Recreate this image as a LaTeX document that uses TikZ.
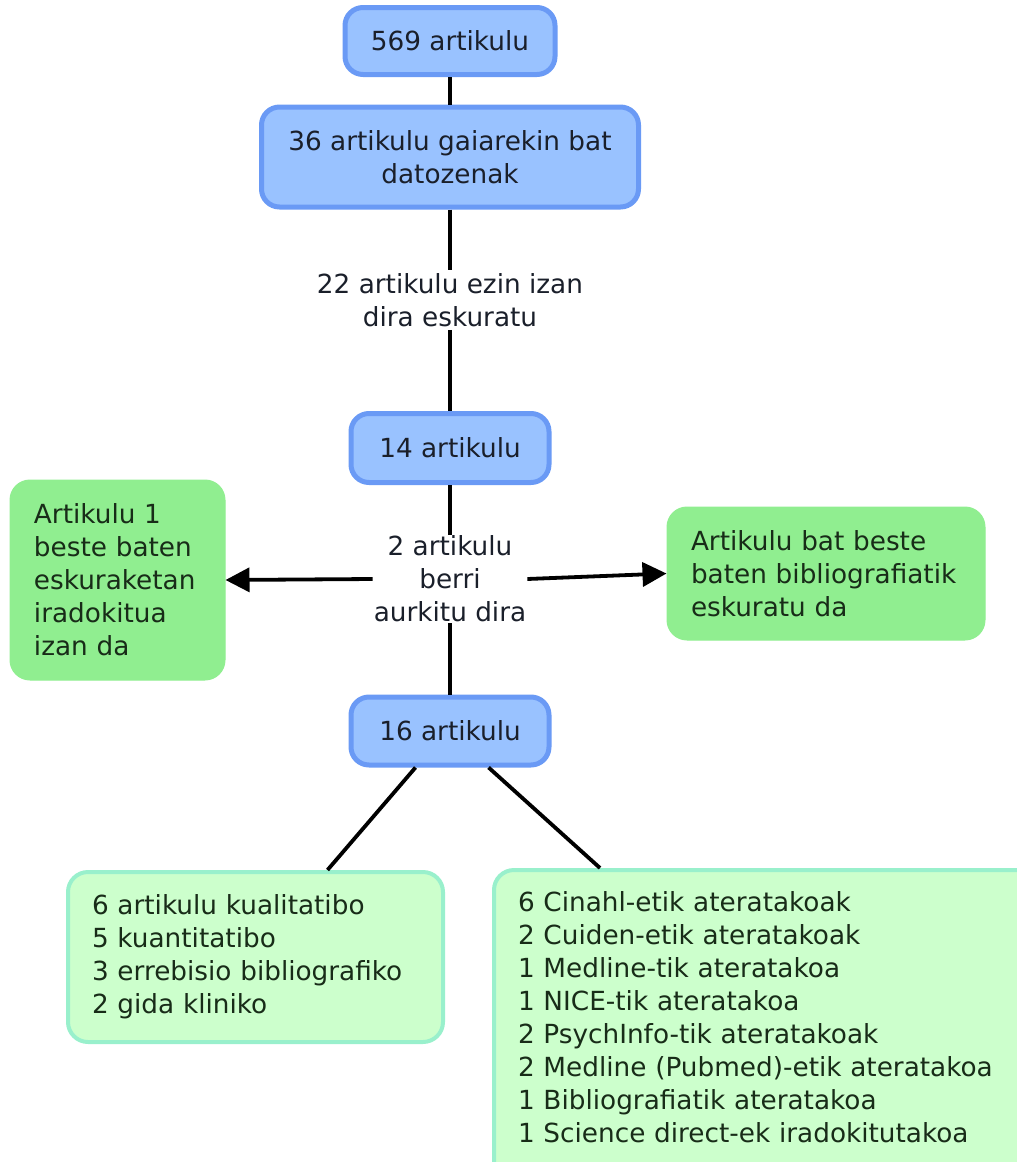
\documentclass[tikz,border=0pt]{standalone}
\usepackage{fontspec}
\setmainfont{DejaVu Sans}
\usetikzlibrary{arrows.meta,calc}
\definecolor{bfill}{HTML}{99C2FF}
\definecolor{bline}{HTML}{6A9AF5}
\definecolor{gfill}{HTML}{90EE90}
\definecolor{lfill}{HTML}{CCFFCC}
\definecolor{lline}{HTML}{99F0CC}
\definecolor{txt}{HTML}{1A1F2A}
\definecolor{gtxt}{HTML}{182C18}
\tikzset{
  bluebox/.style={draw=bline, line width=5pt, fill=bfill, rounded corners=18pt, text=txt, align=center, inner sep=0pt},
  greenbox/.style={draw=gfill, line width=1pt, fill=gfill, rounded corners=20pt, text=gtxt, align=left, inner xsep=24pt, inner ysep=0pt},
  lightbox/.style={draw=lline, line width=4pt, fill=lfill, rounded corners=20pt, text=gtxt, align=left, inner xsep=24pt, inner ysep=0pt},
  lab/.style={text=txt, align=center, inner sep=3pt},
  conn/.style={line width=3.8pt, black},
  arr/.style={conn, -{Triangle[length=24pt,width=24pt]}}
}
\begin{document}
\begin{tikzpicture}[x=1pt,y=-1pt, font=\fontsize{26.3}{33}\selectfont]
\useasboundingbox (0,0) rectangle (1017,1162);
\begin{scope}
\clip (0,0) rectangle (1017,1162);
\node[bluebox, minimum width=210pt, minimum height=67pt] (n569) at (450,41) {569 artikulu};
\node[bluebox, minimum width=377pt, minimum height=100pt] (n36) at (450,157) {36 artikulu gaiarekin bat\\datozenak};
\node[lab] (l22) at (450,300) {22 artikulu ezin izan\\dira eskuratu};
\node[bluebox, minimum width=198pt, minimum height=69pt] (n14) at (450,448) {14 artikulu};
\node[lab, inner sep=1pt] (l2) at (450,579) {2 artikulu\\berri\\aurkitu dira};
\node[bluebox, minimum width=198pt, minimum height=68pt] (n16) at (450,731) {16 artikulu};
\node[greenbox, minimum width=215pt, minimum height=200pt, text width=167pt] (gl) at (117.5,580) {Artikulu 1\\beste baten\\eskuraketan\\iradokitua\\izan da};
\node[greenbox, minimum width=318pt, minimum height=133pt, text width=270pt] (gr) at (826,573.5) {Artikulu bat beste\\baten bibliografiatik\\eskuratu da};
\node[lightbox, minimum width=375pt, minimum height=170pt, text width=327pt] (bl) at (255.5,957) {6 artikulu kualitatibo\\5 kuantitatibo\\3 errebisio bibliografiko\\2 gida kliniko};
\node[lightbox, anchor=north west, inner ysep=22pt, minimum width=560pt, text width=512pt] (br) at (492,868) {6 Cinahl-etik ateratakoak\\2 Cuiden-etik ateratakoak\\1 Medline-tik ateratakoa\\1 NICE-tik ateratakoa\\2 PsychInfo-tik ateratakoak\\2 Medline (Pubmed)-etik ateratakoa\\1 Bibliografiatik ateratakoa\\1 Science direct-ek iradokitutakoa\\\rule{0pt}{60pt}};
\end{scope}
\draw[conn] (n569.south) -- (n36.north);
\draw[conn] (n36.south) -- (l22.north);
\draw[conn] (l22.south) -- (n14.north);
\draw[conn] (n14.south) -- (l2.north);
\draw[conn] (l2.south) -- (n16.north);
\draw[arr] (l2.west) -- (gl.east);
\draw[arr] (l2.east) -- (gr.west);
\draw[conn] ($(n16.south west)!0.33!(n16.south east)$) -- ($(bl.north west)!0.69!(bl.north east)$);
\draw[conn] ($(n16.south west)!0.69!(n16.south east)$) -- ($(br.north west)+(108,0)$);
\end{tikzpicture}
\end{document}
